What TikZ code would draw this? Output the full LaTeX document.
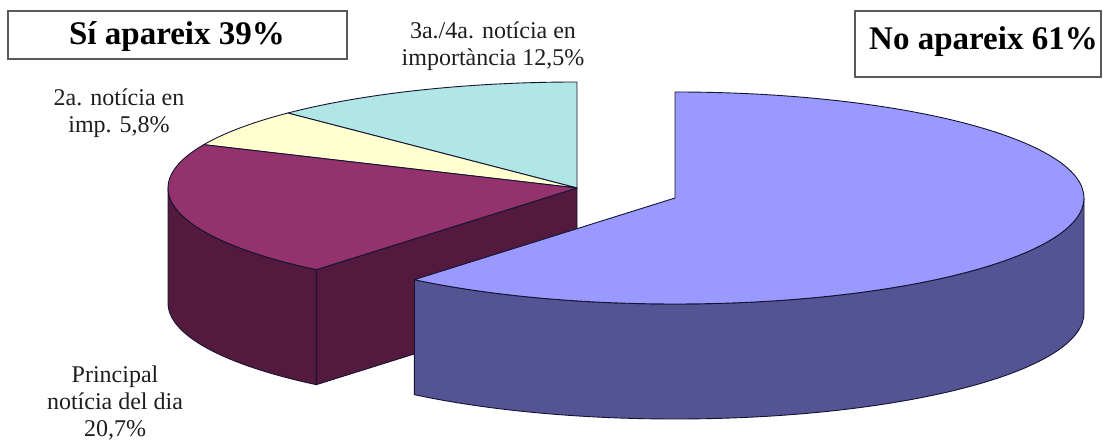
\documentclass[tikz,border=0pt]{standalone}
\usepackage{fontspec}
\setmainfont{Liberation Serif}
\definecolor{bluetop}{RGB}{153,153,255}
\definecolor{blueside}{RGB}{84,84,148}
\definecolor{purpletop}{RGB}{148,50,110}
\definecolor{purpleside}{RGB}{84,26,62}
\definecolor{yellowtop}{RGB}{255,255,208}
\definecolor{cyantop}{RGB}{176,230,230}
\definecolor{edgec}{RGB}{20,20,50}
\definecolor{labc}{RGB}{30,30,30}
\definecolor{boxc}{RGB}{90,90,90}
\begin{document}
\begin{tikzpicture}[x=1pt,y=1pt,
  edge/.style={draw=edgec, line width=0.9pt, line join=round},
  boxframe/.style={draw=boxc, line width=1.2pt, inner sep=0pt, fill=white},
  boxtext/.style={font=\fontsize{33}{36}\selectfont\bfseries, text=black, inner sep=0pt},
  lab/.style={font=\fontsize{24}{27}\selectfont, text=labc, align=center, inner sep=0pt},
  ell/.style={x radius=409pt, y radius=106pt}]
\useasboundingbox (0,0) rectangle (1103,443);
\fill[white] (0,0) rectangle (1103,443);

\coordinate (L) at (577,255);
\coordinate (Lb) at (577,140);
\coordinate (B) at (675,245);

% left group (Si apareix)
\path[edge, fill=purpleside] ([shift={(180:409pt and 106pt)}]L)
  arc[ell, start angle=180, end angle=230.4] -- ++(0,-115)
  arc[ell, start angle=230.4, end angle=180] -- cycle;
\path[edge, fill=purpleside] (L) -- ([shift={(230.4:409pt and 106pt)}]L)
  -- ++(0,-115) -- (Lb) -- cycle;
\path[edge, fill=cyantop] (L) -- ([shift={(90:409pt and 106pt)}]L)
  arc[ell, start angle=90, end angle=135] -- cycle;
\path[edge, fill=yellowtop] (L) -- ([shift={(135:409pt and 106pt)}]L)
  arc[ell, start angle=135, end angle=155.88] -- cycle;
\path[edge, fill=purpletop] (L) -- ([shift={(155.88:409pt and 106pt)}]L)
  arc[ell, start angle=155.88, end angle=230.4] -- cycle;

% exploded slice (No apareix)
\path[edge, fill=blueside] ([shift={(230.4:409pt and 106pt)}]B)
  arc[ell, start angle=230.4, end angle=360] -- ++(0,-115)
  arc[ell, start angle=360, end angle=230.4] -- cycle;
\path[edge, fill=bluetop] (B) -- ([shift={(90:409pt and 106pt)}]B)
  arc[ell, start angle=90, end angle=-129.6] -- cycle;

% boxes
\node[boxframe, minimum width=339pt, minimum height=48pt] (sibox) at (177.5,408) {};
\node[boxtext, anchor=base] (sitext) at (177,398) {Sí apareix 39\%};
\node[boxframe, minimum width=246pt, minimum height=66pt] (nobox) at (978,399) {};
\node[boxtext, anchor=base] (notext) at (983.5,393) {No apareix 61\%};

% labels
\node[lab] (lab3) at (493,397) {3a./4a. notícia en\\importància 12,5\%};
\node[lab] (lab2) at (119,330) {2a. notícia en\\imp. 5,8\%};
\node[lab] (lab1) at (115,40) {Principal\\notícia del dia\\20,7\%};
\end{tikzpicture}
\end{document}
